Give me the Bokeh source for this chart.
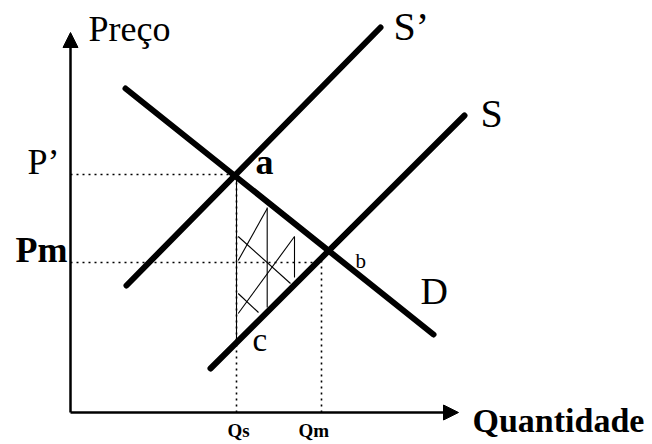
from bokeh.plotting import figure
from bokeh.models import Range1d, Arrow, NormalHead, ColumnDataSource
from bokeh.core.properties import value
from bokeh.embed import file_html
from bokeh.resources import INLINE

# ---- data (Quantity, Price) ----
axis_q_max = 388
axis_p_max = 380

demand_q = [55, 363]
demand_p = [324, 78]
supply_q = [140, 394]
supply_p = [44, 297]
supply2_q = [56, 310]
supply2_p = [127, 385]

q_s = 166
q_m = 251
p_prime = 238
p_m = 150
p_c = 72
p_qm_top = 152

# hatch segments inside triangle a-b-c
hatch_q0 = [166, 196.7, 224, 167.7, 167.7, 167.7, 167.7]
hatch_p0 = [238, 205, 176, 152, 99, 176, 119]
hatch_q1 = [166, 196.7, 224, 196.7, 224, 220, 188]
hatch_p1 = [72, 105, 135, 204, 176, 129, 100]

labels = ["Preço", "Quantidade", "P\u2019", "Pm", "S\u2019", "S", "D", "a", "b", "c", "Qs", "Qm"]
label_q = [18, 402, -43, -55, 323, 410, 350, 185, 285, 182, 157, 228]
label_p = [384, -8, 251, 163, 386, 299, 122, 251, 152, 73, -18, -18]
label_size = ["36px", "34px", "36px", "36px", "40px", "40px", "38px", "36px", "21px", "33px", "19px", "19px"]
label_style = ["normal", "bold", "normal", "bold", "normal", "normal", "normal", "bold", "normal", "normal", "bold", "bold"]

p = figure(width=652, height=444, output_backend="svg", toolbar_location=None,
           x_range=Range1d(-70, 582), y_range=Range1d(-32, 412),
           x_axis_location=None, y_axis_location=None, min_border=0)
p.grid.visible = False
p.outline_line_color = None
p.background_fill_color = "white"

# axes with arrows
p.add_layout(Arrow(end=NormalHead(size=15, fill_color="black", line_color="black"),
                   x_start=0, y_start=0, x_end=0, y_end=axis_p_max,
                   line_width=2.5, line_color="black"))
p.add_layout(Arrow(end=NormalHead(size=15, fill_color="black", line_color="black"),
                   x_start=0, y_start=0, x_end=axis_q_max, y_end=0,
                   line_width=2.5, line_color="black"))

# dotted guide lines
p.segment(x0=[0, q_s, 0, q_m], y0=[p_prime, 0, p_m, 0],
          x1=[q_s, q_s, q_m, q_m], y1=[p_prime, p_prime, p_m, p_qm_top],
          line_color="black", line_width=1.6, line_dash="2 4")

# hatch
p.segment(x0=hatch_q0, y0=hatch_p0, x1=hatch_q1, y1=hatch_p1,
          line_color="black", line_width=1.1)

# curves
for qs, ps in [(demand_q, demand_p), (supply_q, supply_p), (supply2_q, supply2_p)]:
    p.line(qs, ps, line_color="black", line_width=6, line_cap="round")

src = ColumnDataSource(dict(x=label_q, y=label_p, t=labels, s=label_size, st=label_style))
p.text(x="x", y="y", text="t", source=src, text_font=value("Liberation Serif"),
       text_font_size="s", text_font_style="st", text_color="black",
       text_align="left", text_baseline="alphabetic")

open("out.html", "w").write(file_html(p, INLINE))
